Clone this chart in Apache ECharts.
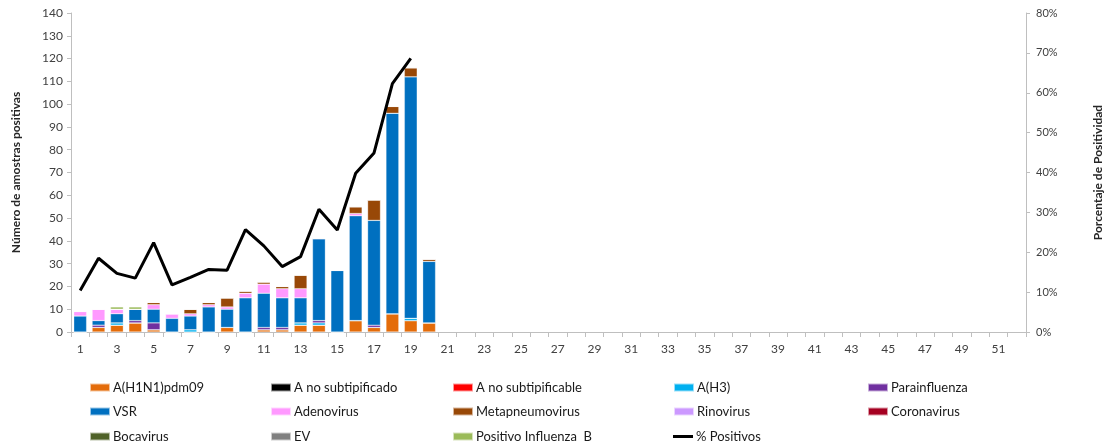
<!DOCTYPE html>
<html>
<head>
<meta charset="utf-8">
<script src="https://cdn.jsdelivr.net/npm/echarts@6/dist/echarts.min.js"></script>
<style>
html,body{margin:0;padding:0;background:#fff;}
#c{width:1112px;height:446px;}
</style>
</head>
<body>
<div id="c"></div>
<script>
const weeks = Array.from({length: 52}, (_, i) => String(i + 1));
const h1n1      = [0,2,3,4,1,0,0,0,2,0,1,1,3,3,0,5,2,8,5,4];
const aNoSubt   = [0,0,0,0,0,0,0,0,0,0,0,0,0,0,0,0,0,0,0,0];
const aNoSubtbl = [0,0,0,0,0,0,0,0,0,0,0,0,0,0,0,0,0,0,0,0];
const h3        = [0,0,1,0,0,0,1,0,0,0,0,0,1,1,0,0,0,0,1,0];
const paraInf   = [0,1,0,1,3,0,0,0,0,0,1,1,0,1,0,0,1,0,0,0];
const vsr       = [7,2,4,5,6,6,6,11,8,15,15,13,11,36,27,46,46,88,106,27];
const adeno     = [2,5,2,0,2,2,1,1,1,2,4,4,4,0,0,1,0,0,0,0];
const metap     = [0,0,0,0,1,0,2,1,4,1,1,1,6,0,0,3,9,3,4,1];
const rino      = [0,0,0,0,0,0,0,0,0,0,0,0,0,0,0,0,0,0,0,0];
const corona    = [0,0,0,0,0,0,0,0,0,0,0,0,0,0,0,0,0,0,0,0];
const boca      = [0,0,0,0,0,0,0,0,0,0,0,0,0,0,0,0,0,0,0,0];
const ev        = [0,0,0,0,0,0,0,0,0,0,0,0,0,0,0,0,0,0,0,0];
const fluB      = [0,0,1,1,0,0,0,0,0,0,0,0,0,0,0,0,0,0,0,0];
const pctPos    = [10.4,18.5,14.7,13.5,22.4,11.8,13.7,15.7,15.5,25.7,21.6,16.4,18.9,30.8,25.6,39.8,44.9,62.3,68.6];
const leftTicks = {min: 0, max: 140, interval: 10};
const rightTicks = {min: 0, max: 80, interval: 10};

const barDefs = [
  ['A(H1N1)pdm09', h1n1, '#E46C0A'],
  ['A no subtipificado', aNoSubt, '#000000'],
  ['A no subtipificable', aNoSubtbl, '#FF0000'],
  ['A(H3)', h3, '#00B0F0'],
  ['Parainfluenza', paraInf, '#7030A0'],
  ['VSR', vsr, '#0070C0'],
  ['Adenovirus', adeno, '#FF99FF'],
  ['Metapneumovirus', metap, '#984807'],
  ['Rinovirus', rino, '#CC99FF'],
  ['Coronavirus', corona, '#A50021'],
  ['Bocavirus', boca, '#4F6228'],
  ['EV', ev, '#808080'],
  ['Positivo Influenza  B', fluB, '#9BBB59']
];
const pad = arr => weeks.map((w, i) => (i < arr.length ? arr[i] : null));

const series = barDefs.map(([name, arr, color]) => ({
  name, type: 'bar', stack: 'total', data: pad(arr),
  barCategoryGap: '30%',
  itemStyle: {color, borderColor: 'rgba(255,255,255,0.6)', borderWidth: 0.5},
  emphasis: {disabled: true}
}));
series.push({
  name: '% Positivos', type: 'line', yAxisIndex: 1, data: pad(pctPos),
  symbol: 'none', lineStyle: {color: '#000', width: 3}, itemStyle: {color: '#000'},
  z: 5
});

const font = 'Lato, "Open Sans", sans-serif';
const legendCols = [
  ['A(H1N1)pdm09', 'VSR', 'Bocavirus'],
  ['A no subtipificado', 'Adenovirus', 'EV'],
  ['A no subtipificable', 'Metapneumovirus', 'Positivo Influenza  B'],
  ['A(H3)', 'Rinovirus', '% Positivos'],
  ['Parainfluenza', 'Coronavirus']
];
const legendX = [89, 270, 452, 673, 867];
const legendY = [381, 405, 430];
const legends = [];
legendCols.forEach((items, i) => {
  items.forEach((n, j) => {
    legends.push({
      left: legendX[i], top: legendY[j], orient: 'horizontal',
      itemWidth: 20, itemHeight: 8, padding: 0,
      selectedMode: false,
      textStyle: {fontFamily: font, fontSize: 13, color: '#1a1a1a', padding: [0, 0, 0, -2]},
      data: [n === '% Positivos'
        ? {name: n, icon: 'path://M0,0 L20,0 L20,3 L0,3 Z', itemStyle: {color: '#000'}}
        : {name: n, icon: 'rect'}]
    });
  });
});

const chart = echarts.init(document.getElementById('c'));
chart.setOption({
  animation: false,
  backgroundColor: '#fff',
  textStyle: {fontFamily: font},
  legend: legends,
  grid: {left: 71, right: 70, top: 13, bottom: 114},
  xAxis: {
    type: 'category', data: weeks, boundaryGap: true,
    axisLine: {lineStyle: {color: '#BFBFBF'}},
    axisTick: {show: true, interval: 0, length: 5, lineStyle: {color: '#BFBFBF'}},
    axisLabel: {interval: 1, color: '#404040', fontSize: 12, fontFamily: font, margin: 11}
  },
  yAxis: [
    {
      type: 'value', ...leftTicks,
      name: 'Número de amostras positivas', nameLocation: 'middle', nameGap: 49,
      nameTextStyle: {fontSize: 12, fontWeight: 'bold', color: '#262626', fontFamily: font},
      axisLine: {show: true, lineStyle: {color: '#BFBFBF'}},
      axisTick: {show: true, length: 4, lineStyle: {color: '#BFBFBF'}},
      splitLine: {show: false},
      axisLabel: {color: '#404040', fontSize: 12, fontFamily: font, margin: 8}
    },
    {
      type: 'value', ...rightTicks, position: 'right',
      name: 'Porcentaje de Positividad', nameLocation: 'middle', nameGap: 66,
      nameTextStyle: {fontSize: 12, fontWeight: 'bold', color: '#262626', fontFamily: font},
      axisLine: {show: true, lineStyle: {color: '#BFBFBF'}},
      axisTick: {show: true, length: 4, lineStyle: {color: '#BFBFBF'}},
      splitLine: {show: false},
      axisLabel: {formatter: '{value}%', color: '#404040', fontSize: 11, fontFamily: font, margin: 10}
    }
  ],
  series
});
</script>
</body>
</html>
